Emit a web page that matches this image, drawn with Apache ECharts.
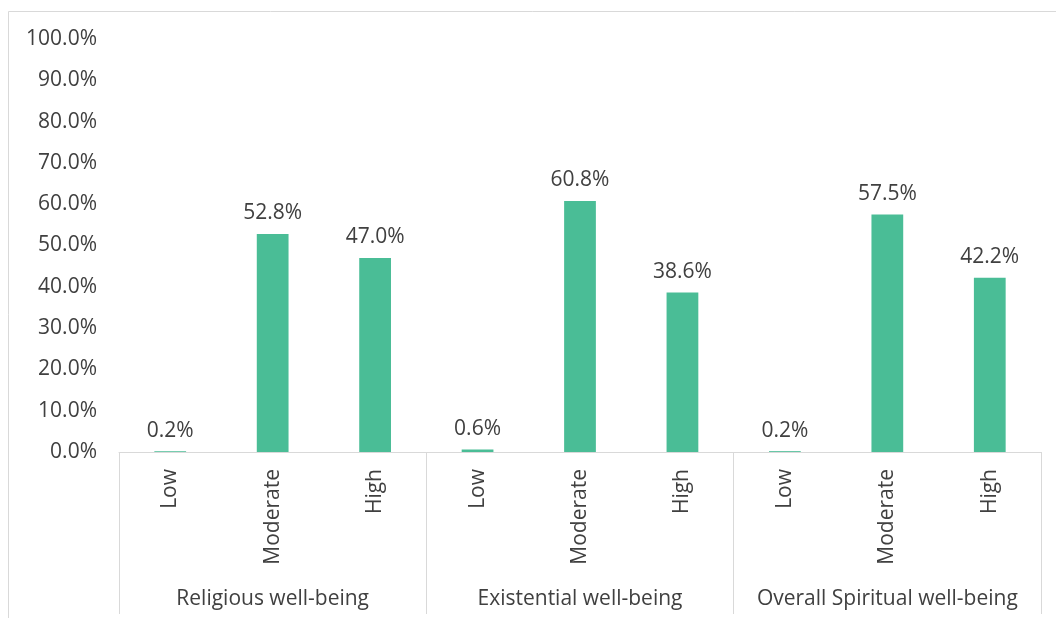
<!DOCTYPE html>
<html>
<head>
<meta charset="utf-8">
<style>
  html, body { margin: 0; padding: 0; background: #ffffff; }
  #chart { width: 1056px; height: 618px; }
</style>
<script src="https://cdn.jsdelivr.net/npm/echarts@6/dist/echarts.min.js"></script>
</head>
<body>
<div id="chart"></div>
<script>
// Spiritual well-being levels, share of respondents (%)
const groups = ['Religious well-being', 'Existential well-being', 'Overall Spiritual well-being'];
const levels = ['Low', 'Moderate', 'High'];
const religious = [0.2, 52.8, 47.0];
const existential = [0.6, 60.8, 38.6];
const overall = [0.2, 57.5, 42.2];
const yTicks = [0, 10, 20, 30, 40, 50, 60, 70, 80, 90, 100];

const categories = [];
groups.forEach(g => levels.forEach(l => categories.push(l)));
const values = [].concat(religious, existential, overall);

const textColor = '#404040';
const lineColor = '#d9d9d9';
const fontFamily = '"Open Sans", "Noto Sans", sans-serif';
const fontSize = 21;

const chart = echarts.init(document.getElementById('chart'), null, { renderer: 'canvas' });
chart.setOption({
  animation: false,
  backgroundColor: '#ffffff',
  textStyle: { fontFamily: fontFamily, color: textColor },
  grid: { left: 119, right: 15, top: 39, bottom: 166, containLabel: false },
  xAxis: [
    {
      type: 'category',
      data: categories,
      position: 'bottom',
      axisLine: { show: true, lineStyle: { color: lineColor, width: 1 } },
      axisTick: { show: false },
      axisLabel: {
        rotate: 90,
        margin: 17,
        interval: 0,
        fontSize: fontSize,
        color: textColor,
        fontFamily: fontFamily
      }
    },
    {
      type: 'category',
      data: groups,
      position: 'bottom',
      axisLine: { show: false },
      axisTick: {
        show: true,
        inside: false,
        length: 162,
        lineStyle: { color: lineColor, width: 1 }
      },
      axisLabel: {
        margin: 137,
        interval: 0,
        fontSize: fontSize,
        color: textColor,
        fontFamily: fontFamily
      }
    }
  ],
  yAxis: {
    type: 'value',
    min: yTicks[0],
    max: yTicks[yTicks.length - 1],
    interval: yTicks[1] - yTicks[0],
    axisLine: { show: false },
    axisTick: { show: false },
    splitLine: { show: false },
    axisLabel: {
      margin: 22,
      fontSize: fontSize,
      color: textColor,
      fontFamily: fontFamily,
      padding: [5, 0, 0, 0],
      formatter: v => v.toFixed(1) + '%'
    }
  },
  series: [{
    type: 'bar',
    xAxisIndex: 0,
    data: values,
    barWidth: '31%',
    itemStyle: { color: '#4abd96' },
    label: {
      show: true,
      position: 'top',
      distance: 10,
      fontSize: fontSize,
      color: textColor,
      fontFamily: fontFamily,
      formatter: p => p.value.toFixed(1) + '%'
    }
  }],
  graphic: [
    { type: 'line', shape: { x1: 8.5, y1: 11.5, x2: 1056, y2: 11.5 }, style: { stroke: lineColor, lineWidth: 1 }, silent: true },
    { type: 'line', shape: { x1: 8.5, y1: 11.5, x2: 8.5, y2: 618 }, style: { stroke: lineColor, lineWidth: 1 }, silent: true }
  ]
});
</script>
</body>
</html>
